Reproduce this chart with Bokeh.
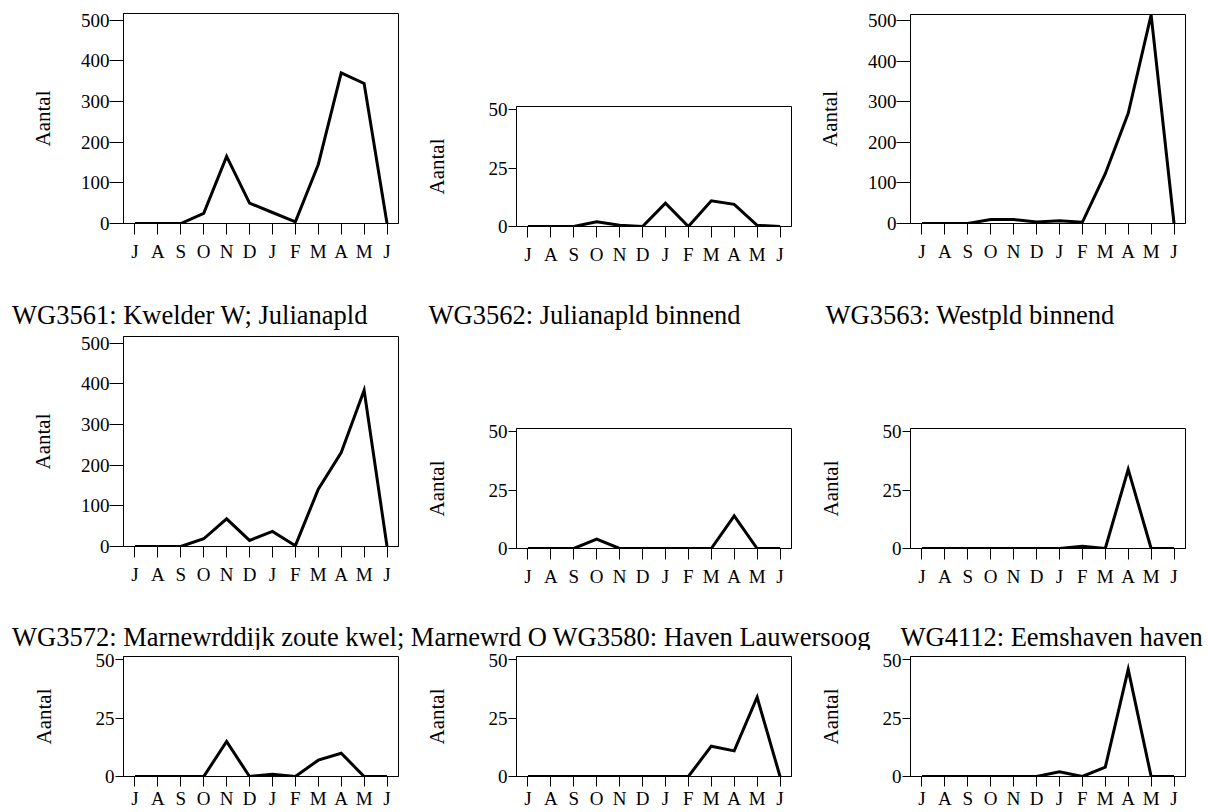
from bokeh.plotting import figure
from bokeh.layouts import column, row
from bokeh.models import Range1d, FixedTicker, Label
from bokeh.embed import file_html
from bokeh.resources import INLINE

# ---------------- data ----------------
months = ["J", "A", "S", "O", "N", "D", "J", "F", "M", "A", "M", "J"]
x_pos = list(range(len(months)))

y_ticks_large = [0, 100, 200, 300, 400, 500]
y_ticks_small = [0, 25, 50]

# row 1 (titles cut off in the reference)
panel_r1c1 = [0, 0, 0, 25, 165, 50, 27, 4, 145, 370, 344, 0]
panel_r1c2 = [0, 0, 0, 2, 0.5, 0, 10, 0, 11, 9.5, 0.5, 0]
panel_r1c3 = [0, 0, 0, 10, 10, 4, 7, 3, 123, 272, 515, 0]
# row 2
wg3561 = [0, 0, 0, 19, 68, 15, 37, 2, 141, 231, 384, 0]
wg3562 = [0, 0, 0, 4, 0, 0, 0, 0, 0, 14, 0, 0]
wg3563 = [0, 0, 0, 0, 0, 0, 0, 1, 0, 34, 0, 0]
# row 3
wg3572 = [0, 0, 0, 0, 15, 0, 1, 0, 7, 10, 0, 0]
wg3580 = [0, 0, 0, 0, 0, 0, 0, 0, 13, 11, 34, 0]
wg4112 = [0, 0, 0, 0, 0, 0, 2, 0, 4, 46, 0, 0]

titles_row2 = ["WG3561: Kwelder W; Julianapld", "WG3562: Julianapld binnend", "WG3563: Westpld binnend"]
titles_row3 = ["WG3572: Marnewrddijk zoute kwel; Marnewrd O", "WG3580: Haven Lauwersoog", "WG4112: Eemshaven haven"]

FONT = "Liberation Serif"

# ---------------- layout geometry ----------------
COL_W = [402, 394, 412]
COL_LEFT = [123, 114, 114]
FRAME_W = 275


def panel(values, large, col, height, top, frame_h, xtick_out=11, xstand=6, xfont="19px"):
    width = COL_W[col]
    left = COL_LEFT[col]
    right = width - left - FRAME_W
    bottom = height - top - frame_h
    ymax = 516 if large else 51.5
    p = figure(width=width, height=height,
               x_range=Range1d(-0.5, 11.5), y_range=Range1d(0, ymax),
               output_backend="svg", toolbar_location=None,
               min_border_left=left, min_border_right=right,
               min_border_top=top, min_border_bottom=bottom)
    p.line(x_pos, values, line_width=3, line_color="black", line_join="miter")
    p.xgrid.visible = False
    p.ygrid.visible = False
    p.outline_line_color = "black"
    p.outline_line_width = 1
    p.background_fill_color = "white"
    p.border_fill_color = "white"

    xa = p.xaxis[0]
    xa.ticker = FixedTicker(ticks=x_pos)
    xa.major_label_overrides = {i: m for i, m in enumerate(months)}
    xa.major_tick_in = 0
    xa.major_tick_out = xtick_out
    xa.minor_tick_out = 0
    xa.minor_tick_in = 0
    xa.major_label_standoff = xstand
    xa.major_label_text_font = FONT
    xa.major_label_text_font_size = xfont
    xa.major_label_text_color = "black"
    xa.axis_line_color = "black"
    xa.major_tick_line_color = "black"

    ya = p.yaxis[0]
    ya.ticker = FixedTicker(ticks=y_ticks_large if large else y_ticks_small)
    ya.major_tick_in = 0
    ya.major_tick_out = 14 if large else 8
    ya.minor_tick_out = 0
    ya.minor_tick_in = 0
    ya.major_label_standoff = 0 if large else 1
    ya.major_label_text_font = FONT
    ya.major_label_text_font_size = "19px"
    ya.major_label_text_color = "black"
    ya.axis_line_color = "black"
    ya.major_tick_line_color = "black"
    ya.axis_label = "Aantal"
    ya.axis_label_text_font = FONT
    ya.axis_label_text_font_size = "21px"
    ya.axis_label_text_font_style = "normal"
    ya.axis_label_text_color = "black"
    ya.axis_label_standoff = 23 if large else 37
    return column(p)


def title_strip(height, texts, xs, top_from_top):
    s = figure(width=1208, height=height, x_range=Range1d(0, 1208), y_range=Range1d(0, height),
               output_backend="svg", toolbar_location=None,
               x_axis_type=None, y_axis_type=None,
               min_border_left=0, min_border_right=0, min_border_top=0, min_border_bottom=0)
    s.outline_line_color = None
    s.title.visible = False
    for t, x in zip(texts, xs):
        s.add_layout(Label(x=x, y=height - top_from_top, text=t, text_font=FONT,
                           text_font_size="26.5px", text_color="black",
                           text_baseline="top", text_align="left"))
    return s


# row 1 : y 0..285
r1 = row(
    panel(panel_r1c1, True, 0, 285, 13, 210),
    panel(panel_r1c2, False, 1, 285, 106, 120),
    panel(panel_r1c3, True, 2, 285, 14, 209),
)
s2 = title_strip(48, titles_row2, [11.5, 428, 825], 14)
# row 2 : y 333..600
r2 = row(
    panel(wg3561, True, 0, 267, 3, 210),
    panel(wg3562, False, 1, 267, 95, 120),
    panel(wg3563, False, 2, 267, 95, 120),
)
s3 = title_strip(50, titles_row3, [11.5, 552, 900], 21)
# row 3 : y 650..812
r3 = row(
    panel(wg3572, False, 0, 162, 6, 120, xtick_out=10, xstand=1),
    panel(wg3580, False, 1, 162, 6, 120, xtick_out=10, xstand=1),
    panel(wg4112, False, 2, 162, 6, 120, xtick_out=10, xstand=1),
)

layout = column(r1, s2, r2, s3, r3)

with open("out.html", "w") as f:
    f.write(file_html(layout, INLINE, "Aantal"))
